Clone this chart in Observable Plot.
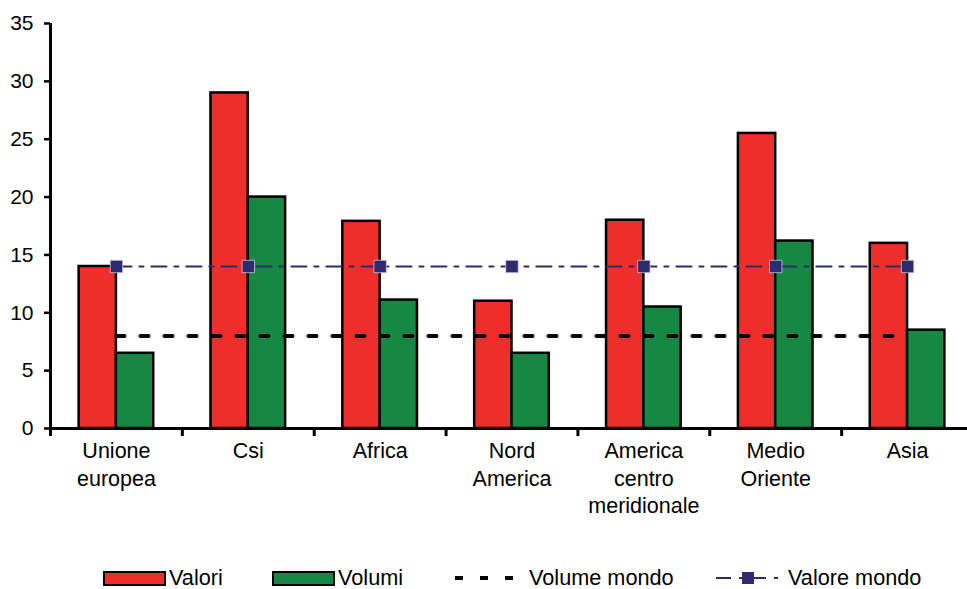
<!DOCTYPE html>
<html><head><meta charset="utf-8">
<script src="https://cdn.jsdelivr.net/npm/d3@7"></script>
<script src="https://cdn.jsdelivr.net/npm/@observablehq/plot@0.6"></script>
<style>
body{margin:0;background:#fff;font-family:"Liberation Sans",Arial,sans-serif;}
#wrap{position:relative;width:967px;height:589px;overflow:hidden}
#legend{position:absolute;top:566px;left:0;width:967px;height:24px;font-size:21.7px;color:#000}
.item{position:absolute;top:0;height:24px;display:flex;align-items:center;white-space:nowrap}
.sw{width:59px;height:11px;border:2px solid #000;margin-right:3px}
</style></head><body><div id="wrap"><div id="chart"></div><div id="legend"></div></div>
<script>
const categories = ["Unione europea","Csi","Africa","Nord America","America centro meridionale","Medio Oriente","Asia"];
const tickLabels = ["Unione\neuropea","Csi","Africa","Nord\nAmerica","America\ncentro\nmeridionale","Medio\nOriente","Asia"];
const valori = [14, 29, 17.9, 11, 18, 25.5, 16];
const volumi = [6.5, 20, 11.1, 6.5, 10.5, 16.2, 8.5];
const volumeMondo = 8;
const valoreMondo = 14;
const yTicks = [0, 5, 10, 15, 20, 25, 30, 35];
const seriesNames = ["Valori", "Volumi", "Volume mondo", "Valore mondo"];

const RED = "#ee2e2b", GREEN = "#178843", NAVY = "#2e2a6e";
const HW = 0.283; // bar width in category units

const bars = [];
categories.forEach((c, i) => {
  bars.push({i, s: "Valori", v: valori[i], x1: i - HW, x2: i});
  bars.push({i, s: "Volumi", v: volumi[i], x1: i, x2: i + HW});
});
const volLine = categories.map((c, i) => ({i, v: volumeMondo}));
const valLine = categories.map((c, i) => ({i, v: valoreMondo}));
const boundaries = categories.map((c, i) => i - 0.5);
const labelData = categories.map((c, i) => ({i, t: tickLabels[i]}));

const chart = Plot.plot({
  width: 967, height: 545,
  marginLeft: 50, marginRight: 0, marginTop: 23, marginBottom: 117,
  style: {fontFamily: "'Liberation Sans', Arial, sans-serif", fontSize: "21px", color: "#000", background: "#fff", overflow: "hidden"},
  x: {type: "linear", domain: [-0.5, 6.5], range: [50, 973], axis: null},
  y: {domain: [0, 35], axis: null, label: null},
  color: {domain: ["Valori", "Volumi"], range: [RED, GREEN]},
  marks: [
    Plot.rectY(bars, {x1: "x1", x2: "x2", y: "v", fill: "s", stroke: "#000", strokeWidth: 2.5}),
    Plot.lineY(volLine, {x: "i", y: "v", stroke: "#000", strokeWidth: 4, strokeDasharray: "8,16"}),
    Plot.lineY(valLine, {x: "i", y: "v", stroke: NAVY, strokeWidth: 2.2, strokeDasharray: "15,8,4,8"}),
    Plot.dot(valLine, {x: "i", y: "v", symbol: "square", r: 7, fill: NAVY, stroke: "#c9c6e6", strokeWidth: 0.8}),
    Plot.ruleY([0], {stroke: "#000", strokeWidth: 3}),
    Plot.ruleX([-0.5], {stroke: "#000", strokeWidth: 3}),
    Plot.axisY(yTicks, {tickSize: 6, tickPadding: 11, strokeWidth: 2.5, fontSize: 21, label: null, tickFormat: d => String(d)}),
    Plot.axisX(boundaries, {tickSize: 8, strokeWidth: 3, text: null, label: null}),
    Plot.text(labelData, {x: "i", y: 0, text: "t", lineAnchor: "top", dy: 10, fontSize: 21.5, lineHeight: 1.28, fill: "#000"})
  ]
});
document.getElementById("chart").appendChild(chart);

// Legend
const legend = document.getElementById("legend");
function addItem(left, swatchHtml, label, gap) {
  const d = document.createElement("div");
  d.className = "item";
  d.style.left = left + "px";
  d.innerHTML = swatchHtml + `<span style="margin-left:${gap}px">${label}</span>`;
  legend.appendChild(d);
}
addItem(103, `<div class="sw" style="background:${RED}"></div>`, seriesNames[0], 0);
addItem(272, `<div class="sw" style="background:${GREEN}"></div>`, seriesNames[1], 0);
addItem(455, `<svg width="62" height="12"><line x1="0" x2="62" y1="6" y2="6" stroke="#000" stroke-width="4" stroke-dasharray="8,17"/></svg>`, seriesNames[2], 12);
addItem(716, `<svg width="64" height="14"><line x1="0" x2="64" y1="7" y2="7" stroke="${NAVY}" stroke-width="2.2" stroke-dasharray="15,8,4,8" stroke-dashoffset="0"/><rect x="26" y="1" width="12" height="12" fill="${NAVY}"/></svg>`, seriesNames[3], 8);
</script>
</body></html>
